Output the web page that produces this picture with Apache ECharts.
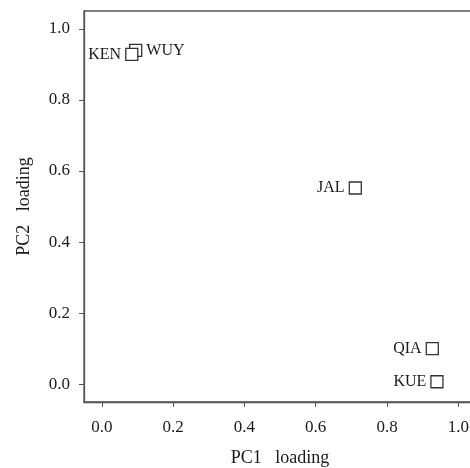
<!DOCTYPE html>
<html><head><meta charset="utf-8">
<script src="https://cdn.jsdelivr.net/npm/echarts@6/dist/echarts.min.js"></script>
<style>html,body{margin:0;padding:0;background:#fff}#c{width:470px;height:468px}</style>
</head><body><div id="c"></div>
<script>
const names = ['WUY','KEN','JAL','QIA','KUE'];
const pc1 = [0.095, 0.084, 0.711, 0.927, 0.940];
const pc2 = [0.939, 0.928, 0.552, 0.100, 0.007];
const labelSide = ['right','left','left','left','left'];
const tickVals = [0.0, 0.2, 0.4, 0.6, 0.8, 1.0];
const xName = 'PC1   loading';
const yName = 'PC2   loading';

const font = 'Liberation Serif';
const axisCol = '#555';
const txtCol = '#1a1a1a';
const data = names.map((n,i)=>({
  value:[pc1[i], pc2[i]], name:n,
  label:{show:true, position:labelSide[i], formatter:n, distance:4,
         fontFamily:font, fontSize:16, color:txtCol, opacity:1}
}));
const chart = echarts.init(document.getElementById('c'));
chart.setOption({
  animation:false,
  grid:{left:84, top:11, width:392, height:391, show:true, borderColor:axisCol, borderWidth:1.3,
        containLabel:false, outerBoundsMode:'none'},
  xAxis:{type:'value', min:-0.05, max:1.0496,
    name:xName, nameLocation:'middle', nameGap:47,
    nameTextStyle:{fontFamily:font, fontSize:18, color:txtCol},
    axisLine:{show:true, onZero:false, lineStyle:{color:axisCol, width:1.3}},
    axisTick:{show:true, customValues:tickVals, length:5, lineStyle:{color:axisCol}},
    axisLabel:{customValues:tickVals, formatter:v=>v.toFixed(1), fontFamily:font, fontSize:17, color:txtCol, margin:17},
    splitLine:{show:false}},
  yAxis:{type:'value', min:-0.05, max:1.05,
    name:yName, nameLocation:'middle', nameGap:51,
    nameTextStyle:{fontFamily:font, fontSize:18, color:txtCol},
    axisLine:{show:true, onZero:false, lineStyle:{color:axisCol, width:1.3}},
    axisTick:{show:true, customValues:tickVals, length:5, lineStyle:{color:axisCol}},
    axisLabel:{customValues:tickVals, formatter:v=>v.toFixed(1), fontFamily:font, fontSize:17, color:txtCol, margin:14},
    splitLine:{show:false}},
  series:[{type:'scatter', symbol:'rect', symbolSize:12,
    itemStyle:{color:'#fff', opacity:1, borderColor:'#333', borderWidth:1.3},
    label:{fontFamily:font, fontSize:16, color:txtCol},
    data:data}]
});
</script></body></html>
